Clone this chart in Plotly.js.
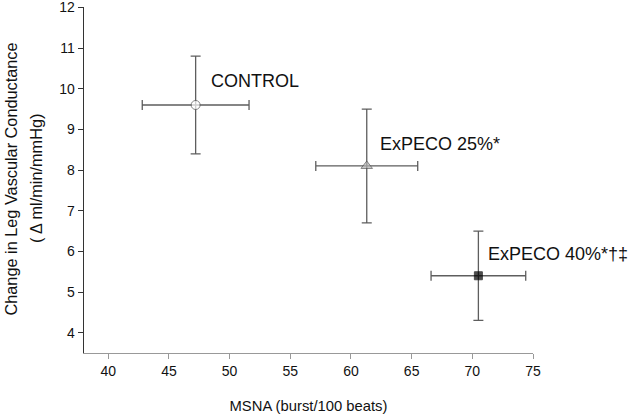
<!DOCTYPE html>
<html>
<head>
<meta charset="utf-8">
<script src="https://cdn.plot.ly/plotly-3.0.1.min.js"></script>
<style>
  html, body { margin: 0; padding: 0; background: #fff; }
  #chart { width: 635px; height: 417px; }
</style>
</head>
<body>
<div id="chart"></div>
<script>
// Group means with SD, MSNA vs change in leg vascular conductance
const groups = ['CONTROL', 'ExPECO 25%*', 'ExPECO 40%*†‡'];
const msna = [47.2, 61.3, 70.5];
const msnaErr = [4.4, 4.2, 3.9];
const dlvc = [9.6, 8.1, 5.4];
const dlvcErr = [1.2, 1.4, 1.1];
const xTicks = [40, 45, 50, 55, 60, 65, 70, 75];
const yTicks = [4, 5, 6, 7, 8, 9, 10, 11, 12];
const yTitleLines = ['Change in Leg Vascular Conductance', '( Δ ml/min/mmHg)'];

const FONT = 'Arial, "Liberation Sans", sans-serif';

// marker look for each group: open circle, grey triangle, filled square
const symbols = ['circle', 'triangle-up', 'square'];
const fills = ['#ffffff', '#b4b4b4', '#000000'];
const outlines = ['#555555', '#555555', '#000000'];
const sizes = [9, 10, 8];
// label offsets (px) from each point
const labelDx = [13, 11, 8];
const labelDy = [24, 22, 22];

const trace = {
  type: 'scatter',
  mode: 'markers',
  x: msna,
  y: dlvc,
  error_x: { type: 'data', array: msnaErr, visible: true, color: '#5e5e5e', thickness: 1.3, width: 5 },
  error_y: { type: 'data', array: dlvcErr, visible: true, color: '#5e5e5e', thickness: 1.3, width: 5 },
  marker: {
    symbol: symbols,
    color: fills,
    size: sizes,
    line: { color: outlines, width: 1 }
  },
  hoverinfo: 'skip',
  showlegend: false
};

const annotations = groups.map((g, i) => ({
  x: msna[i], y: dlvc[i], xref: 'x', yref: 'y',
  text: g, showarrow: false,
  xanchor: 'left', yanchor: 'middle',
  xshift: labelDx[i], yshift: labelDy[i],
  font: { family: FONT, size: 18, color: '#111111' }
}));

// two-line y-axis title, placed left of the plot area
const yTitleX = [10.5, 36];
yTitleLines.forEach((line, i) => {
  annotations.push({
    xref: 'paper', yref: 'paper', x: 0, y: 0.5,
    xanchor: 'center', yanchor: 'middle',
    xshift: yTitleX[i] - 84, yshift: 1,
    text: line, textangle: -90, showarrow: false,
    font: { family: FONT, size: 16.3, color: '#111111' }
  });
});

const layout = {
  width: 635,
  height: 417,
  margin: { l: 84, r: 102, t: 7, b: 64, pad: 0 },
  paper_bgcolor: '#ffffff',
  plot_bgcolor: '#ffffff',
  font: { family: FONT, color: '#111111' },
  showlegend: false,
  xaxis: {
    range: [38, 75],
    tickvals: xTicks,
    ticktext: xTicks.map(String),
    showgrid: false,
    zeroline: false,
    showline: true,
    linecolor: '#999999',
    linewidth: 1.3,
    ticks: 'outside',
    ticklen: 5,
    tickcolor: '#999999',
    tickfont: { family: FONT, size: 14, color: '#111111' },
    title: { text: 'MSNA (burst/100 beats)', font: { family: FONT, size: 14.8, color: '#111111' }, standoff: 22 }
  },
  yaxis: {
    range: [3.5, 12.01],
    tickvals: yTicks,
    ticktext: yTicks.map(String),
    ticklabeloverflow: 'allow',
    showgrid: false,
    zeroline: false,
    showline: true,
    linecolor: '#333333',
    linewidth: 1.3,
    ticks: 'outside',
    ticklen: 5,
    tickcolor: '#333333',
    tickfont: { family: FONT, size: 14, color: '#111111' }
  },
  annotations: annotations
};

Plotly.newPlot('chart', [trace], layout, { displayModeBar: false, staticPlot: true });
</script>
</body>
</html>
